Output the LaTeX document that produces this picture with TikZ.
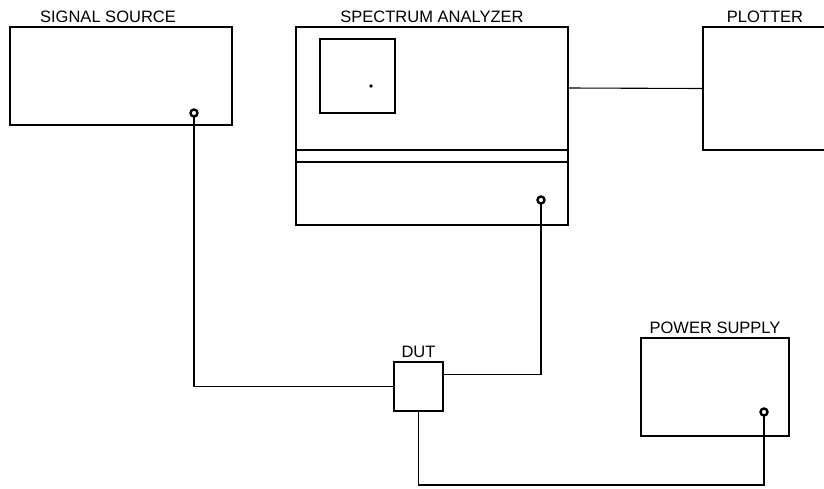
\documentclass[tikz,border=0pt]{standalone}
\usepackage{fontspec}
\setmainfont{Liberation Sans}
\begin{document}
\begin{tikzpicture}[x=1pt,y=-1pt,
  box/.style={draw,line width=1.1pt,inner sep=0pt,outer sep=0pt},
  port/.style={circle,draw,line width=2.4pt,minimum size=7pt,inner sep=0pt,outer sep=0pt,fill=white},
  lbl/.style={anchor=base,font=\fontsize{16.5}{16.5}\selectfont,inner sep=0pt},
  wire/.style={line width=1.1pt}]
\useasboundingbox[fill=white] (0,0) rectangle (824,488);
% boxes
\node[box,minimum width=222pt,minimum height=98pt] (ss) at (121,76) {};
\node[box,minimum width=272pt,minimum height=198pt] (sa) at (432,126) {};
\node[box,minimum width=197pt,minimum height=123pt] (pl) at (801.5,88.5) {};
\node[box,minimum width=148pt,minimum height=98pt] (ps) at (715,387) {};
\node[box,minimum width=49pt,minimum height=49pt] (dut) at (418.5,386.5) {};
% spectrum analyzer details
\draw[wire] (sa.west |- 0,150) -- (sa.east |- 0,150);
\draw[wire] (sa.west |- 0,162) -- (sa.east |- 0,162);
\node[box,minimum width=75pt,minimum height=74pt] (screen) at (357.5,76) {};
\fill (371,86) circle (1.8);
% labels
\node[lbl] (ssl) at (108,22) {SIGNAL SOURCE};
\node[lbl] (sal) at (432,22) {SPECTRUM ANALYZER};
\node[lbl] (pll) at (765,22) {PLOTTER};
\node[lbl] (psl) at (715,333) {POWER SUPPLY};
\node[lbl] (dutl) at (418.5,357) {DUT};
% ports
\node[port] (p1) at (194,113) {};
\node[port] (p2) at (541,200) {};
\node[port] (p3) at (764,412) {};
\coordinate (bot) at (0,485);
% wires
\draw[wire] (p1.south) |- (dut.west);
\draw[wire] (p2.south) |- ([yshift=12pt]dut.east);
\draw[wire] (dut.south) -- (dut.south |- bot) -| (p3.south);
\draw[wire] (sa.east |- 0,88) -- (pl.west);
\end{tikzpicture}
\end{document}
